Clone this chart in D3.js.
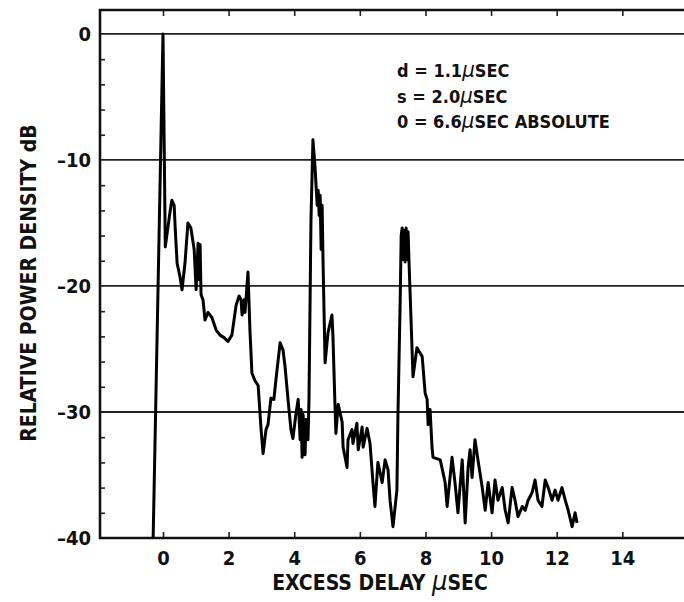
<!DOCTYPE html>
<html>
<head>
<meta charset="utf-8">
<script src="https://cdn.jsdelivr.net/npm/d3@7/dist/d3.min.js"></script>
<style>
  body { margin: 0; background: #fff; }
  text { font-family: 'Liberation Sans Narrow', 'DejaVu Sans', sans-serif; font-stretch: condensed; font-weight: bold; fill: #111; }
</style>
</head>
<body>
<svg id="chart" width="684" height="602"></svg>
<script>
// Excess delay (microseconds) and relative power density (dB).
var delayUs = [
  -0.30, 0.00, 0.07, 0.21, 0.27, 0.34, 0.37, 0.43, 0.52, 0.58, 0.67, 0.76, 0.85, 0.95, 1.01,
  1.07, 1.10, 1.13, 1.16, 1.22, 1.28, 1.37, 1.49, 1.62, 1.74, 1.86, 1.98, 2.10, 2.23, 2.32,
  2.38, 2.41, 2.47, 2.50, 2.59, 2.65, 2.71, 2.80, 2.90, 2.99, 3.05, 3.14, 3.20, 3.29, 3.38,
  3.44, 3.57, 3.66, 3.72, 3.81, 3.90, 3.96, 4.05, 4.12, 4.18, 4.21, 4.24, 4.27, 4.33, 4.36,
  4.42, 4.45, 4.51, 4.57, 4.63, 4.70, 4.73, 4.76, 4.79, 4.82, 4.85, 4.88, 4.94, 5.03, 5.15,
  5.18, 5.24, 5.27, 5.34, 5.46, 5.49, 5.61, 5.64, 5.76, 5.79, 5.91, 5.95, 6.07, 6.10, 6.22,
  6.31, 6.40, 6.46, 6.55, 6.68, 6.77, 6.86, 6.92, 7.01, 7.13, 7.16, 7.23, 7.26, 7.29, 7.32,
  7.35, 7.38, 7.41, 7.44, 7.47, 7.50, 7.56, 7.62, 7.74, 7.90, 7.99, 8.05, 8.08, 8.14, 8.20,
  8.23, 8.45, 8.60, 8.66, 8.81, 8.90, 8.99, 9.12, 9.21, 9.30, 9.36, 9.42, 9.51, 9.60, 9.73,
  9.82, 9.91, 10.03, 10.12, 10.21, 10.34, 10.43, 10.52, 10.64, 10.73, 10.82, 10.95, 11.04, 11.13, 11.25,
  11.34, 11.43, 11.55, 11.65, 11.74, 11.86, 11.95, 12.04, 12.16, 12.26, 12.35, 12.47, 12.56, 12.62
];
var powerDb = [
  -40.0, 0.0, -16.9, -14.2, -13.2, -13.6, -15.3, -18.2, -19.3, -20.3, -18.2, -15.0, -15.4, -17.1, -20.3,
  -16.6, -19.5, -16.7, -20.7, -21.1, -22.7, -22.1, -22.5, -23.5, -23.9, -24.1, -24.4, -23.9, -21.5, -20.8,
  -21.1, -22.3, -21.1, -22.1, -18.9, -23.5, -26.9, -27.5, -27.9, -31.4, -33.3, -31.4, -31.0, -28.9, -29.0,
  -27.5, -24.5, -25.1, -26.4, -29.0, -31.4, -32.1, -30.2, -29.0, -32.2, -29.8, -33.6, -30.2, -33.4, -30.6,
  -32.2, -29.0, -14.8, -8.4, -10.4, -13.6, -12.4, -14.4, -12.8, -17.1, -13.6, -18.3, -26.1, -23.7, -22.3,
  -24.0, -29.3, -31.7, -29.4, -30.8, -32.8, -34.4, -32.2, -31.4, -32.5, -30.9, -33.0, -31.2, -32.8, -31.3,
  -32.5, -35.6, -37.5, -34.0, -35.6, -33.8, -34.6, -37.0, -39.1, -36.2, -30.4, -21.1, -16.0, -15.4, -17.9,
  -15.6, -18.1, -15.4, -17.9, -15.7, -18.2, -22.7, -27.2, -24.9, -25.6, -28.5, -29.0, -31.0, -29.8, -32.8,
  -33.6, -33.8, -35.6, -37.5, -33.6, -35.6, -38.0, -33.8, -38.8, -34.4, -33.0, -35.2, -32.2, -33.8, -36.0,
  -37.8, -35.6, -38.0, -35.4, -37.0, -36.0, -37.8, -38.8, -36.0, -37.0, -38.3, -37.5, -37.8, -37.0, -36.4,
  -35.4, -37.0, -37.5, -35.4, -36.0, -37.0, -36.2, -37.0, -36.0, -37.0, -37.8, -39.1, -38.0, -38.8
];

var xTicks = [0, 2, 4, 6, 8, 10, 12, 14];
var yGridTicks = [0, -10, -20, -30];
var yLabelTicks = [0, -10, -20, -30, -40];
var yMinorTicks = [-2, -4, -6, -8, -12, -14, -16, -18, -22, -24, -26, -28, -32, -34, -36, -38];
var noteLines = [['d = 1.1', 'SEC'], ['s = 2.0', 'SEC'], ['0 = 6.6', 'SEC ABSOLUTE']];

(function() {
    var svg = d3.select('#chart');
    var plotLeft = 100, plotRight = 684, plotTop = 10, plotBottom = 538;

    var x = d3.scaleLinear().domain([-1.92, 15.88]).range([plotLeft, plotRight]);
    var y = d3.scaleLinear().domain([-40, 1.9]).range([plotBottom, plotTop]);

    var data = delayUs.map(function(d, i) { return {x: d, y: powerDb[i]}; });

    // Horizontal reference lines.
    svg.append('g')
        .selectAll('line')
        .data(yGridTicks)
        .join('line')
        .attr('x1', plotLeft).attr('x2', plotRight)
        .attr('y1', function(d) { return y(d); })
        .attr('y2', function(d) { return y(d); })
        .attr('stroke', '#222')
        .attr('stroke-width', 1.8);

    // Left axis: labels on the major values, small inward ticks every 2 dB.
    var yAxis = svg.append('g')
        .attr('transform', 'translate(' + plotLeft + ',0)')
        .call(d3.axisLeft(y).tickValues(yLabelTicks).tickSize(0).tickPadding(9)
            .tickFormat(function(d) { return d === 0 ? '0' : '\u2013' + Math.abs(d); }));
    yAxis.select('.domain').remove();
    yAxis.selectAll('text').attr('font-size', 20).attr('font-family', null);

    svg.append('g')
        .attr('transform', 'translate(' + plotLeft + ',0)')
        .call(d3.axisRight(y).tickValues(yMinorTicks).tickSize(5).tickFormat(''))
        .call(function(g) { g.select('.domain').remove(); })
        .selectAll('line').attr('stroke', '#222').attr('stroke-width', 1.6);

    // Bottom axis with inward ticks.
    var xAxis = svg.append('g')
        .attr('transform', 'translate(0,' + plotBottom + ')')
        .call(d3.axisBottom(x).tickValues(xTicks).tickSizeInner(-6).tickSizeOuter(0).tickPadding(13));
    xAxis.select('.domain').remove();
    xAxis.selectAll('line').attr('stroke', '#222').attr('stroke-width', 1.6);
    xAxis.selectAll('text').attr('font-size', 20).attr('font-family', null);

    // Top axis ticks pointing down.
    svg.append('g')
        .attr('transform', 'translate(0,' + plotTop + ')')
        .call(d3.axisTop(x).tickValues(xTicks).tickSizeInner(-6).tickSizeOuter(0).tickFormat(''))
        .call(function(g) { g.select('.domain').remove(); })
        .selectAll('line').attr('stroke', '#222').attr('stroke-width', 1.6);

    // Frame: left, top and bottom edges.
    svg.append('path')
        .attr('d', 'M' + plotRight + ',' + plotTop + 'H' + plotLeft + 'V' + plotBottom + 'H' + plotRight)
        .attr('fill', 'none')
        .attr('stroke', '#111')
        .attr('stroke-width', 2.6);

    // The delay profile.
    svg.append('path')
        .datum(data)
        .attr('fill', 'none')
        .attr('stroke', '#000')
        .attr('stroke-width', 3)
        .attr('stroke-linejoin', 'round')
        .attr('d', d3.line().x(function(d) { return x(d.x); }).y(function(d) { return y(d.y); }));

    // Axis titles.
    svg.append('text')
        .attr('transform', 'translate(36,283) rotate(-90)')
        .attr('text-anchor', 'middle')
        .attr('font-size', 21)
        .text('RELATIVE POWER DENSITY dB');

    var xTitle = svg.append('text')
        .attr('x', 380).attr('y', 590)
        .attr('text-anchor', 'middle')
        .attr('font-size', 21);
    xTitle.append('tspan').text('EXCESS DELAY ');
    xTitle.append('tspan').attr('font-style', 'italic').attr('font-size', 27).attr('font-weight', 'normal').text('\u00b5');
    xTitle.append('tspan').text('SEC');

    // Annotation block.
    var note = svg.append('g').attr('transform', 'translate(397,77)');
    noteLines.forEach(function(parts, i) {
        var t = note.append('text').attr('y', i * 25.5).attr('font-size', 18);
        t.append('tspan').text(parts[0]);
        t.append('tspan').attr('font-style', 'italic').attr('font-size', 22).attr('font-weight', 'normal').text('\u00b5');
        t.append('tspan').text(parts[1]);
    });
})();
</script>
</body>
</html>
